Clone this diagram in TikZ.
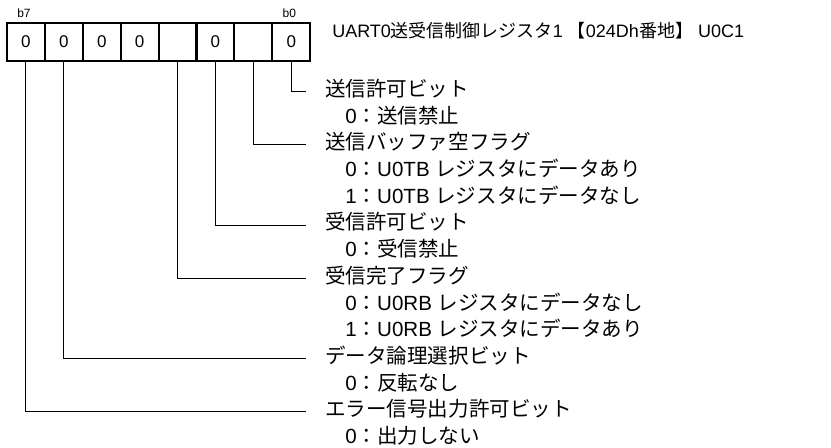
\documentclass[tikz,border=0pt]{standalone}
\usepackage{fontspec}
\setmainfont{Liberation Sans}
\newfontfamily\jpfont{Noto Sans CJK JP}
\newcommand{\jp}[1]{{\jpfont #1}}
\usetikzlibrary{positioning}

\tikzset{
    bitlbl/.style={inner sep=0pt, font=\fontsize{9}{10}\selectfont},
    item/.style={anchor=west, inner sep=0pt, text height=0.88em, text depth=0.14em,
        font=\fontsize{15.4}{18}\selectfont},
    conn/.style={line width=0.75pt}
}

\begin{document}
\begin{tikzpicture}[x=0.75pt, y=-0.75pt]
    \useasboundingbox (0,0) rectangle (831,447);

    \begin{scope}[every node/.style={draw, line width=1.5pt, minimum width=28.4pt,
        minimum height=28.5pt, inner sep=0pt, font=\fontsize{12.75}{14}\selectfont}]
        \foreach \v/\n [count=\i] in {0/7,0/6,0/5,0/4,/3,0/2,/1,0/0}
            \node (b\n) at ({7+(\i-0.5)*37.9}, 41.7) {\v};
    \end{scope}

    \node[bitlbl, above=2.5pt of b7, xshift=-1.5pt] (lb7) {b7};
    \node[bitlbl, above=2.5pt of b0, xshift=-1.5pt] (lb0) {b0};
    \node[item, font=\fontsize{13.5}{16}\selectfont] (title) at (332,33)
        {UART0\jp{送受信制御レジスタ}1 \jp{【}024Dh\jp{番地】} U0C1};

    % bit descriptions
    \node[item] (txen)    at (325,91.5)  {\jp{送信許可ビット}};
    \node[item] (txen0)   at (345,118.2) {0\jp{：送信禁止}};
    \node[item] (tbuf)    at (325,144.9) {\jp{送信バッファ空フラグ}};
    \node[item] (tbuf0)   at (345,171.6) {0\jp{：}U0TB \jp{レジスタにデータあり}};
    \node[item] (tbuf1)   at (345,198.3) {1\jp{：}U0TB \jp{レジスタにデータなし}};
    \node[item] (rxen)    at (325,225.0) {\jp{受信許可ビット}};
    \node[item] (rxen0)   at (345,251.7) {0\jp{：受信禁止}};
    \node[item] (rcomp)   at (325,278.4) {\jp{受信完了フラグ}};
    \node[item] (rcomp0)  at (345,305.1) {0\jp{：}U0RB \jp{レジスタにデータなし}};
    \node[item] (rcomp1)  at (345,331.8) {1\jp{：}U0RB \jp{レジスタにデータあり}};
    \node[item] (dlogic)  at (325,358.5) {\jp{データ論理選択ビット}};
    \node[item] (dlogic0) at (345,385.2) {0\jp{：反転なし}};
    \node[item] (errout)  at (325,411.9) {\jp{エラー信号出力許可ビット}};
    \node[item] (errout0) at (345,438.6) {0\jp{：出力しない}};

    \begin{scope}[conn]
    \draw (b0.south) |- ([xshift=-14.25pt]txen.west);
    \draw (b1.south) |- ([xshift=-14.25pt]tbuf.west);
    \draw (b2.south) |- ([xshift=-14.25pt]rxen.west);
    \draw (b3.south) |- ([xshift=-14.25pt]rcomp.west);
    \draw (b6.south) |- ([xshift=-14.25pt]dlogic.west);
    \draw (b7.south) |- ([xshift=-14.25pt]errout.west);
    \end{scope}

\end{tikzpicture}
\end{document}
